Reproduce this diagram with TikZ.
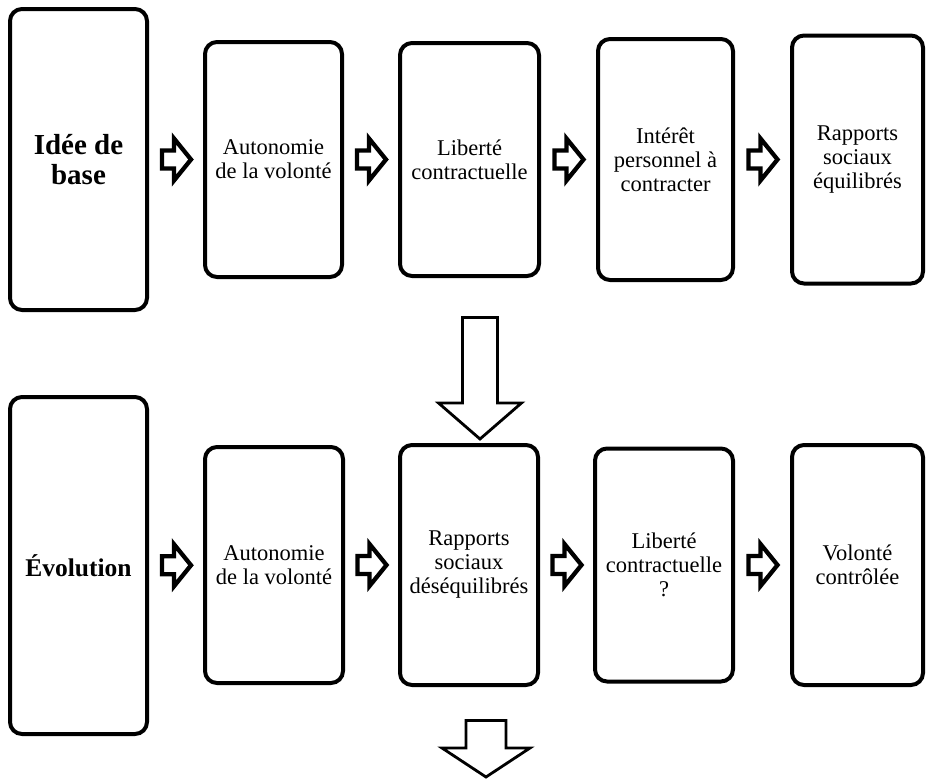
\documentclass[tikz,border=0pt]{standalone}
\usepackage{fontspec}
\setmainfont{Liberation Serif}
\usetikzlibrary{calc}
\tikzset{
  box/.style={draw, line width=4pt, rounded corners=12pt, inner sep=0pt, outer sep=0pt,
    align=center, font=\fontsize{22.5}{24}\selectfont},
  titlebox/.style={box, font=\fontsize{29}{30}\selectfont\bfseries},
  smallarrow/.style={draw, line width=4.3pt, fill=white, miter limit=10},
  bigarrow/.style={draw, line width=2.8pt, fill=white, miter limit=10},
  pics/rarrow/.style={code={
    \draw[smallarrow] (-14,-9) -- (-2,-9) -- (-2,-21) -- (15,0) -- (-2,21) -- (-2,9) -- (-14,9) -- cycle;}},
}
\begin{document}
\begin{tikzpicture}[x=1pt, y=-1pt]
\useasboundingbox (0,0) rectangle (927,782);
% top row
\node[titlebox, minimum width=137, minimum height=301] (T1) at (78.5,159.5) {Idée de\\base};
\node[box, minimum width=137, minimum height=235] (T2) at (273.5,159.5) {Autonomie\\de la volonté};
\node[box, minimum width=139, minimum height=233] (T3) at (469.5,159.5) {Liberté\\contractuelle};
\node[box, minimum width=135, minimum height=241] (T4) at (665.5,159.5) {Intérêt\\personnel à\\contracter};
\node[box, minimum width=131, minimum height=248] (T5) at (857.5,159.5) {Rapports\\sociaux\\équilibrés};
% bottom row
\node[titlebox, font=\fontsize{25.5}{29}\selectfont\bfseries, minimum width=137, minimum height=337] (U1) at (78.5,565.5) {Évolution};
\node[box, minimum width=138, minimum height=236] (U2) at (274,565) {Autonomie\\de la volonté};
\node[box, minimum width=138, minimum height=240] (U3) at (469,565) {Rapports\\sociaux\\déséquilibrés};
\node[box, minimum width=138, minimum height=233] (U4) at (664,565) {Liberté\\contractuelle\\?};
\node[box, minimum width=131, minimum height=240] (U5) at (857.5,565) {Volonté\\contrôlée};
% small arrows
\pic at ($(T1.east)!0.5!(T2.west)$) {rarrow};
\pic at ($(T2.east)!0.5!(T3.west)$) {rarrow};
\pic at ($(T3.east)!0.5!(T4.west)$) {rarrow};
\pic at ($(T4.east)!0.5!(T5.west)$) {rarrow};
\pic at ($(U1.east)!0.5!(U2.west)$) {rarrow};
\pic at ($(U2.east)!0.5!(U3.west)$) {rarrow};
\pic at ($(U3.east)!0.5!(U4.west)$) {rarrow};
\pic at ($(U4.east)!0.5!(U5.west)$) {rarrow};
% big arrows
\coordinate (d1) at ([xshift=11pt,yshift=6pt]U3.north);
\coordinate (d2) at ([xshift=17pt,yshift=-92pt]U3.south);
\draw[bigarrow, shift={(d1)}] (0,0) -- (41.5,-36) -- (17.5,-36) -- (17.5,-121.5) -- (-17.5,-121.5) -- (-17.5,-36) -- (-41.5,-36) -- cycle;
\draw[bigarrow, shift={(d2)}] (0,0) -- (44,-29) -- (20,-29) -- (20,-56.5) -- (-20,-56.5) -- (-20,-29) -- (-44,-29) -- cycle;
\end{tikzpicture}
\end{document}
